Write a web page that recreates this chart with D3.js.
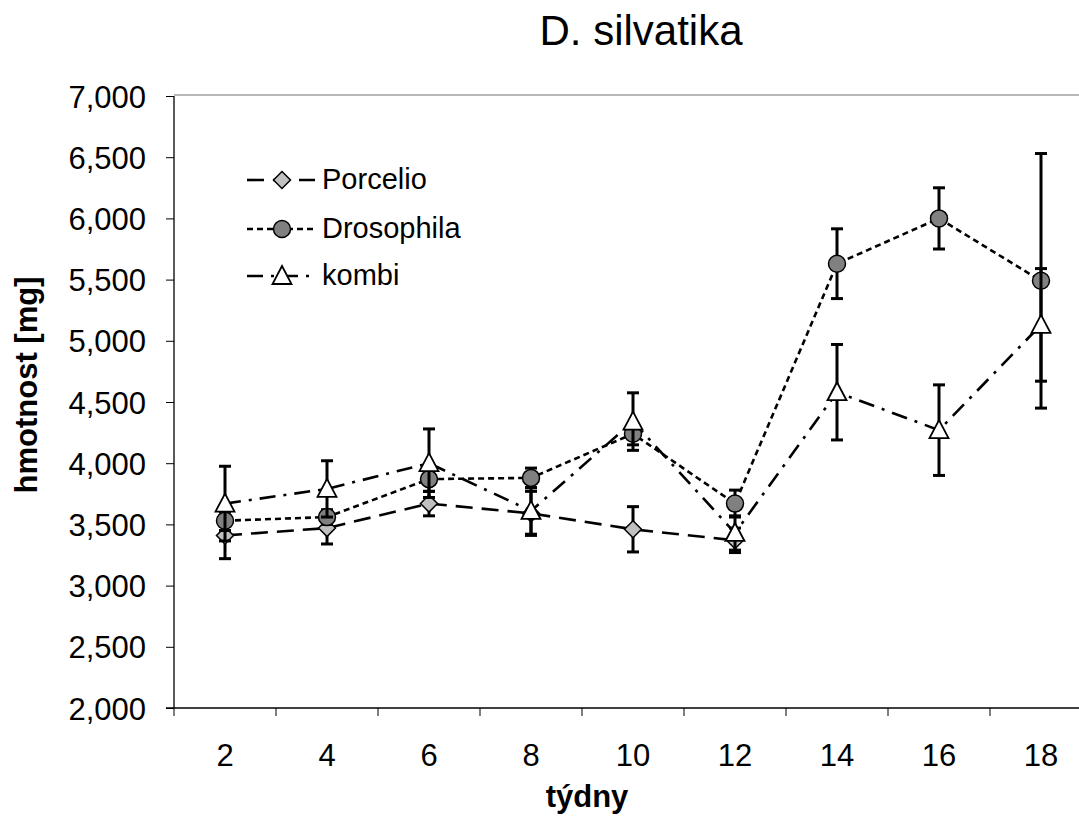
<!DOCTYPE html>
<html><head><meta charset="utf-8">
<script src="https://cdn.jsdelivr.net/npm/d3@7"></script>
<style>body{margin:0;background:#fff}svg{display:block}text{font-family:"Liberation Sans",Arial,sans-serif}</style>
</head><body><svg id="c" width="1079" height="818"></svg>
<script>
const weeks = [2,4,6,8,10,12,14,16,18];
const yTicks = [2000,2500,3000,3500,4000,4500,5000,5500,6000,6500,7000];
const porcelio = [3410,3470,3670,3590,3460,3370];
const porcelioErr = [190,130,100,180,185,100];
const drosophila = [3530,3560,3870,3880,4240,3670,5630,6000,5490];
const drosophilaErr = [80,60,100,80,90,110,285,250,1040];
const kombi = [3670,3790,4000,3610,4340,3430,4580,4270,5130];
const kombiErr = [305,230,280,190,235,140,390,370,460];
const seriesNames = ["Porcelio","Drosophila","kombi"];

(function(){
const svg = d3.select("#c");
const pL=174, pT=96, pB=708, pR=174+9*102;
const x = d3.scaleBand().domain(weeks).range([pL,pR]);
const y = d3.scaleLinear().domain([2000,7000]).range([pB,pT]);
const cx = w => x(w)+x.bandwidth()/2;

svg.append("line").attr("x1",pL).attr("x2",1079).attr("y1",95).attr("y2",95).attr("stroke","#a0a0a0").attr("stroke-width",1.5);

const ya = svg.append("g").attr("transform",`translate(${pL},0)`)
  .call(d3.axisLeft(y).tickValues(yTicks).tickSize(8).tickFormat(d3.format(",")));
ya.select(".domain").attr("stroke","#000").attr("stroke-width",1.3).attr("d",`M0,${pT}V${pB}`);
ya.selectAll(".tick line").attr("stroke","#000").attr("stroke-width",1);
ya.selectAll(".tick text").attr("font-size",31).attr("x",-28).attr("dy","0.36em").attr("fill","#000").attr("font-family","Liberation Sans, Arial");

const xa = svg.append("g").attr("transform",`translate(0,${pB})`)
  .call(d3.axisBottom(x).tickSize(0).tickPadding(0));
xa.select(".domain").attr("stroke","#000").attr("stroke-width",1.3).attr("d",`M${pL-8},0H${1079}`);
xa.selectAll(".tick text").attr("font-size",31).attr("y",58).attr("dy",0).attr("fill","#000").attr("font-family","Liberation Sans, Arial");
const bounds = d3.range(0,10).map(i=>pL+i*x.step());
svg.selectAll(".xt").data(bounds).enter().append("line")
  .attr("x1",d=>d).attr("x2",d=>d).attr("y1",pB).attr("y2",pB+8).attr("stroke","#000").attr("stroke-width",1);

svg.append("text").attr("x",641).attr("y",45).attr("text-anchor","middle").attr("font-size",42).text("D. silvatika");
svg.append("text").attr("x",587).attr("y",807).attr("text-anchor","middle").attr("font-size",31).attr("font-weight","bold").text("týdny");
svg.append("text").attr("transform","translate(37,385) rotate(-90)").attr("text-anchor","middle").attr("font-size",31).attr("font-weight","bold").text("hmotnost [mg]");

const series = [
  {vals:porcelio, err:porcelioErr, dash:"17,9", marker:"diamond", fill:"#c0c0c0"},
  {vals:drosophila, err:drosophilaErr, dash:"6,4", marker:"circle", fill:"#808080"},
  {vals:kombi, err:kombiErr, dash:"16,8,3,8", marker:"triangle", fill:"#ffffff"}
];

function drawMarker(g, type, fill, px, py){
  if(type==="diamond"){
    g.append("path").attr("d",`M${px},${py-8.5}L${px+8.5},${py}L${px},${py+8.5}L${px-8.5},${py}Z`).attr("fill",fill).attr("stroke","#000").attr("stroke-width",1.5);
  } else if(type==="circle"){
    g.append("circle").attr("cx",px).attr("cy",py).attr("r",8.5).attr("fill",fill).attr("stroke","#000").attr("stroke-width",1.5);
  } else {
    g.append("path").attr("d",`M${px},${py-10}L${px+9.5},${py+8}L${px-9.5},${py+8}Z`).attr("fill",fill).attr("stroke","#000").attr("stroke-width",1.8);
  }
}

const line = d3.line().x((d,i)=>cx(weeks[i])).y(d=>y(d));
series.forEach(s=>{
  const g = svg.append("g");
  s.vals.forEach((v,i)=>{
    const px=cx(weeks[i]);
    const e=s.err[i];
    g.append("line").attr("x1",px).attr("x2",px).attr("y1",y(v+e)).attr("y2",y(v-e)).attr("stroke","#000").attr("stroke-width",3);
    [v+e,v-e].forEach(t=>g.append("line").attr("x1",px-6).attr("x2",px+6).attr("y1",y(t)).attr("y2",y(t)).attr("stroke","#000").attr("stroke-width",3));
  });
  g.append("path").datum(s.vals).attr("d",line).attr("fill","none").attr("stroke","#000").attr("stroke-width",2.6).attr("stroke-dasharray",s.dash);
  s.vals.forEach((v,i)=>drawMarker(g,s.marker,s.fill,cx(weeks[i]),y(v)));
});

const legY=[180,229,276];
series.forEach((s,i)=>{
  const g=svg.append("g");
  g.append("line").attr("x1",247).attr("x2",315).attr("y1",legY[i]).attr("y2",legY[i]).attr("stroke","#000").attr("stroke-width",2.6).attr("stroke-dasharray",s.dash);
  drawMarker(g,s.marker,s.fill,282,legY[i]);
  g.append("text").attr("x",322).attr("y",legY[i]+9).attr("font-size",29).text(seriesNames[i]);
});
})();
</script></body></html>
